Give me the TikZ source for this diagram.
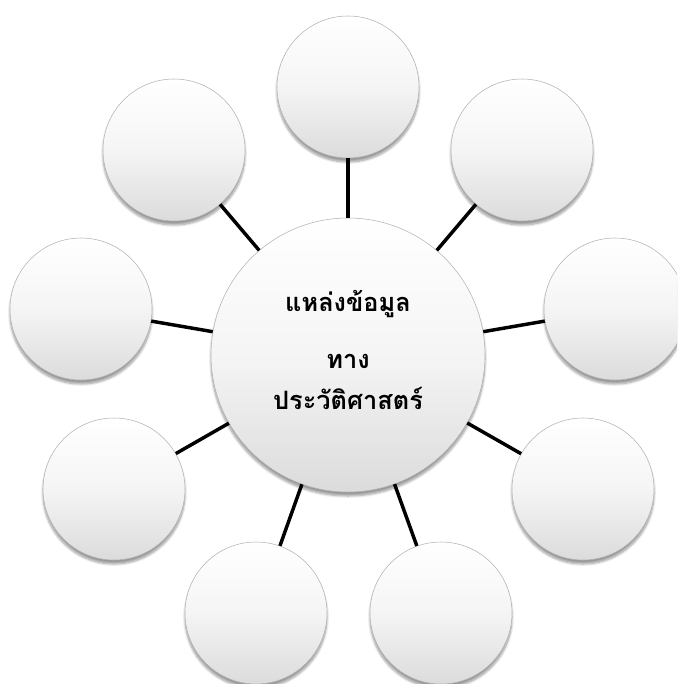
\documentclass[tikz,border=0pt]{standalone}
\usepackage{fontspec}
\newfontfamily\thaifont[Script=Thai]{Loma}
\usetikzlibrary{shadows.blur}
\tikzset{
  ball/.style={circle, minimum size=142*0.75pt, inner sep=0pt, draw=gray!60, line width=0.4pt,
    top color=white, bottom color=gray!28, middle color=gray!8,
    blur shadow={shadow xshift=0pt, shadow yshift=-3pt, shadow blur steps=8, shadow opacity=40}},
  hub/.style={ball, minimum size=274*0.75pt},
  hubtext/.style={font=\thaifont\bfseries\fontsize{19}{24}\selectfont, align=center, inner sep=0pt},
  spoke/.style={line width=2.6pt, black}
}
\begin{document}
\begin{tikzpicture}[x=0.75pt,y=-0.75pt]
\useasboundingbox (0,0) rectangle (677,684);
\clip (0,0) rectangle (677,684);
\node[hub] (c) at (348,355) {};
\node[hubtext] (t) at (348,350) {แหล่งข้อมูล\\[19pt]ทาง\\[7pt]ประวัติศาสตร์};
\node[ball] (n1) at (348,87) {};
\node[ball] (n2) at (522,150) {};
\node[ball] (n3) at (615,309) {};
\node[ball] (n4) at (583,489) {};
\node[ball] (n5) at (441,613) {};
\node[ball] (n6) at (256,613) {};
\node[ball] (n7) at (114,489) {};
\node[ball] (n8) at (81,309) {};
\node[ball] (n9) at (174,150) {};
\foreach \n in {n1,n2,n3,n4,n5,n6,n7,n8,n9}
  \draw[spoke] (c) -- (\n);
\end{tikzpicture}
\end{document}
